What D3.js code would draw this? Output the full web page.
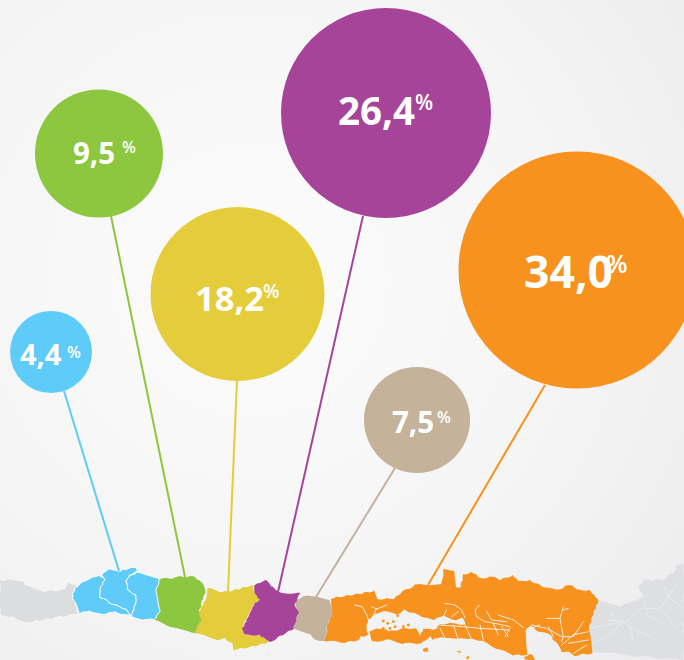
<!DOCTYPE html>
<html>
<head>
<meta charset="utf-8">
<script src="https://cdn.jsdelivr.net/npm/d3@7"></script>
<style>
  body { margin: 0; background: #f3f4f5; }
  svg { display: block; }
  text { font-family: "Open Sans", "Noto Sans", sans-serif; font-weight: 700; fill: #fff; }
  text.pct { font-weight: 600; }
</style>
</head>
<body>
<script>
// values, left to right along the map
var values = [4.4, 9.5, 18.2, 26.4, 7.5, 34.0];
var colors = ["#5fcbf8", "#8dc63f", "#e5cc3b", "#a6449a", "#c4b29a", "#f7921e"];

// where each bubble sits and where its leader runs
var centers = [[51, 352], [99, 153.5], [237.5, 294], [386, 113], [417, 420], [577, 270]];
var leaderStarts = [[64, 391], [111, 216], [237, 380], [363, 216], [395, 468], [545, 385]];
var leaderEnds = [[119, 571], [185, 577], [228, 592], [278, 592], [316, 597], [428, 585]];
var fontSizes = [29, 29.5, 34.5, 38.5, 29.5, 44.5];
var labelX = [20, 73, 195, 338, 392, 524];
var labelY = [365, 164, 311, 125, 433, 288];
var pctX = [67, 122, 263, 415, 437, 606];
var pctY = [358, 153, 298, 110, 423, 273];
var pctSizes = [16, 16, 19, 21, 16, 25];

var width = 684, height = 660;
var water = "#f1f2f3";

function crop(x0, y0, pts) {
  return pts.map(function(p) { return [x0 + p[0] / 3, y0 + p[1] / 3]; });
}

var greyLeft = crop(0, 550, [[0,92],[40,88],[70,95],[75,105],[135,125],[195,120],[205,100],[230,108],[215,135],[235,190],[150,205],[75,218],[40,200],[0,195]]);
var greyRight = crop(530, 565, [[205,105],[265,125],[345,95],[322,65],[345,45],[400,45],[435,20],[440,0],[462,0],[462,285],[300,272],[190,258],[175,190]]);
var blueA = crop(65, 560, [[22,105],[30,85],[60,62],[100,45],[118,58],[105,85],[102,110],[130,125],[150,135],[175,145],[195,160],[190,168],[150,155],[110,165],[70,152],[42,162],[30,130]]);
var blueB = crop(65, 560, [[118,58],[110,45],[130,25],[165,32],[212,20],[215,35],[195,45],[183,65],[188,90],[215,105],[210,135],[200,168],[195,160],[175,145],[150,135],[130,125],[102,110],[105,85]]);
var blueC = crop(65, 560, [[215,38],[240,42],[285,55],[272,100],[287,150],[268,180],[230,178],[200,170],[210,135],[215,105],[188,90],[183,65],[195,45]]);
var green = crop(65, 560, [[285,55],[310,55],[345,50],[385,50],[415,70],[422,90],[400,160],[407,180],[390,220],[345,210],[268,180],[287,150],[272,100]]);
var yellow = crop(195, 570, [[35,55],[75,65],[100,65],[175,45],[178,70],[195,90],[180,100],[150,155],[143,180],[150,195],[195,195],[225,215],[180,228],[115,240],[110,220],[90,205],[70,210],[0,190],[15,150],[8,130],[35,85]]);
var yellowBits = [crop(195, 570, [[215,250],[222,248],[220,254]]), crop(195, 570, [[95,232],[100,232],[98,236]])];
var purple = crop(195, 570, [[178,45],[215,30],[250,68],[315,70],[300,100],[310,130],[295,175],[225,218],[195,195],[150,195],[143,175],[180,100],[195,90],[178,70]]);
var tan = crop(195, 570, [[300,90],[340,75],[360,80],[405,88],[415,130],[400,155],[390,212],[360,210],[340,190],[295,175],[310,130]]);

var orangeMain = [].concat(
  crop(325, 565, [[20,100],[80,90],[150,78],[155,103],[210,100],[240,75],[285,55],[315,60]]),
  crop(430, 565, [[35,60],[40,15],[70,15],[78,68],[92,65],[100,30],[125,20],[150,40],[195,35],[205,45],[250,32],[270,50],[300,45]]),
  crop(530, 565, [[40,65],[80,75],[120,60],[145,75],[175,75],[205,105],[175,190],[190,265],[130,272],[115,260],[95,260],[85,240],[60,210],[20,195],[0,180]]),
  crop(430, 565, [[285,200],[290,240],[290,270],[250,270],[200,250],[170,235],[130,220],[80,222],[30,215],[10,225],[0,215]]),
  crop(325, 565, [[290,235],[230,235],[190,225],[140,230],[135,195],[130,210],[108,215],[105,225],[60,232],[0,228],[10,175],[22,140]])
);
var orangeBits = [
  crop(325, 565, [[295,250],[305,247],[308,260],[297,262]]),
  crop(430, 565, [[108,275],[118,270],[118,280],[108,283]]),
  crop(430, 565, [[282,275],[305,268],[315,285],[285,285]]),
  crop(430, 565, [[80,258],[92,255],[90,262]])
];
var inlet = crop(325, 565, [[130,165],[145,155],[150,145],[185,140],[215,150],[240,135],[265,145],[295,158],[330,165],[355,150],[385,165],[415,160],[420,178],[375,175],[345,178],[335,190],[320,195],[295,190],[285,212],[270,190],[240,190],[190,200],[170,190],[135,197],[135,210],[128,200],[125,180]]);
var inletIslets = crop(325, 565, [[115,158],[125,160],[175,168],[188,175],[205,170],[195,190],[210,185],[235,185],[250,180],[218,152],[175,190]]);

// thin inlets cutting through the orange part
var channels = [
  crop(325, 565, [[88,120],[112,125],[125,150],[130,165]]),
  crop(325, 565, [[140,125],[155,132],[185,120]]),
  crop(325, 565, [[155,130],[142,158]]),
  crop(430, 565, [[45,115],[75,120],[95,135],[105,158]]),
  crop(430, 565, [[148,120],[135,135],[140,155],[165,170],[195,175],[240,185]]),
  crop(430, 565, [[170,140],[185,165],[230,170]]),
  crop(430, 565, [[205,150],[250,165],[280,187]]),
  crop(430, 565, [[50,135],[40,155]]),
  crop(430, 565, [[85,140],[65,155]]),
  crop(430, 565, [[25,180],[100,185],[150,190],[235,195]]),
  crop(430, 565, [[30,190],[45,220]]),
  crop(430, 565, [[70,180],[85,225]]),
  crop(430, 565, [[105,180],[125,225]]),
  crop(430, 565, [[150,180],[160,225]]),
  crop(430, 565, [[190,175],[205,210]]),
  crop(430, 565, [[215,185],[235,215]]),
  crop(430, 565, [[240,190],[225,215]]),
  crop(430, 565, [[300,205],[305,190],[328,180]]),
  crop(530, 565, [[100,125],[90,160],[100,215],[95,230]]),
  crop(530, 565, [[115,130],[100,135]]),
  crop(530, 565, [[50,160],[90,160]]),
  crop(530, 565, [[5,180],[50,190],[95,215],[130,215],[160,170]]),
  crop(530, 565, [[135,205],[95,240]]),
  crop(530, 565, [[175,200],[130,210]]),
  crop(530, 565, [[175,225],[115,235]]),
  crop(530, 565, [[130,265],[170,240]]),
  crop(530, 565, [[55,185],[70,215]])
];
var greyChannels = [
  crop(530, 565, [[180,190],[280,170],[300,185],[360,215]]),
  crop(530, 565, [[235,165],[290,170],[335,130],[390,130],[440,60]]),
  crop(530, 565, [[390,130],[440,190],[462,170]]),
  crop(530, 565, [[180,240],[230,215],[280,170]]),
  crop(530, 565, [[300,185],[310,225]]),
  crop(530, 565, [[400,60],[420,100],[462,130]]),
  crop(530, 565, [[345,110],[350,150],[400,175]]),
  crop(530, 565, [[240,140],[255,165]])
];

var svg = d3.select("body").append("svg")
  .attr("width", width)
  .attr("height", height);

var grad = svg.append("defs").append("radialGradient")
  .attr("id", "paper")
  .attr("gradientUnits", "userSpaceOnUse")
  .attr("cx", 250).attr("cy", 280).attr("r", 580);
grad.append("stop").attr("offset", "0%").attr("stop-color", "#fcfcfc");
grad.append("stop").attr("offset", "60%").attr("stop-color", "#f4f4f5");
grad.append("stop").attr("offset", "100%").attr("stop-color", "#ebebed");

svg.append("rect")
  .attr("width", width)
  .attr("height", height)
  .attr("fill", "url(#paper)");

// coasts are ragged: break each edge up and nudge the points by their position
function ragged(pts) {
  var out = [];
  pts.forEach(function(p, i) {
    var q = pts[(i + 1) % pts.length];
    var n = Math.max(1, Math.round(Math.hypot(q[0] - p[0], q[1] - p[1]) / 2.5));
    d3.range(n).forEach(function(k) {
      var x = p[0] + (q[0] - p[0]) * k / n;
      var y = p[1] + (q[1] - p[1]) * k / n;
      out.push([x + 0.7 * Math.sin(x * 1.7 + y * 2.3), y + 0.7 * Math.sin(x * 2.9 - y * 1.3)]);
    });
  });
  return out;
}

var line = d3.line();
var map = svg.append("g").attr("class", "map");

function land(pts, fill, stroke) {
  map.append("path")
    .attr("d", line(ragged(pts)) + "Z")
    .attr("fill", fill)
    .attr("stroke", stroke || "none")
    .attr("stroke-width", stroke ? 1 : 0)
    .attr("stroke-linejoin", "round");
}

function cut(pts, color, w) {
  map.append("path")
    .attr("d", line(pts))
    .attr("fill", "none")
    .attr("stroke", color)
    .attr("stroke-width", w)
    .attr("stroke-linecap", "round");
}

land(greyLeft, "#dcddde");
land(greyRight, "#dedfe1");
greyChannels.forEach(function(c) { cut(c, "#eaebec", 1); });

land(orangeMain, colors[5]);
orangeBits.forEach(function(b) { land(b, colors[5]); });
land(inlet, water);
inletIslets.forEach(function(p) {
  map.append("circle").attr("cx", p[0]).attr("cy", p[1]).attr("r", 1.4).attr("fill", colors[5]);
});
channels.forEach(function(c) { cut(c, water, 0.9); });

land(tan, colors[4]);
land(yellow, colors[2]);
yellowBits.forEach(function(b) { land(b, colors[2]); });
land(purple, colors[3]);
land(green, colors[1]);
land(blueA, colors[0], "#fff");
land(blueB, colors[0], "#fff");
land(blueC, colors[0], "#fff");

// bubbles are not quite proportional in the original, so the scale goes through each one
var radius = d3.scaleLinear()
  .domain([4.4, 7.5, 9.5, 18.2, 26.4, 34.0])
  .range([41, 53, 64, 87, 105, 118.5]);

var fmt = function(v) { return d3.format(".1f")(v).replace(".", ","); };

var bubbles = svg.selectAll("g.bubble")
  .data(values)
  .enter()
  .append("g")
  .attr("class", "bubble");

bubbles.append("line")
  .attr("x1", function(d, i) { return leaderStarts[i][0]; })
  .attr("y1", function(d, i) { return leaderStarts[i][1]; })
  .attr("x2", function(d, i) { return leaderEnds[i][0]; })
  .attr("y2", function(d, i) { return leaderEnds[i][1]; })
  .attr("stroke", function(d, i) { return colors[i]; })
  .attr("stroke-width", 2);

bubbles.append("circle")
  .attr("cx", function(d, i) { return centers[i][0]; })
  .attr("cy", function(d, i) { return centers[i][1]; })
  .attr("r", function(d) { return radius(d); })
  .attr("fill", function(d, i) { return colors[i]; });

bubbles.append("text")
  .attr("x", function(d, i) { return labelX[i]; })
  .attr("y", function(d, i) { return labelY[i]; })
  .attr("font-size", function(d, i) { return fontSizes[i]; })
  .text(function(d) { return fmt(d); });

bubbles.append("text")
  .attr("class", "pct")
  .attr("x", function(d, i) { return pctX[i]; })
  .attr("y", function(d, i) { return pctY[i]; })
  .attr("font-size", function(d, i) { return pctSizes[i]; })
  .text("%");
</script>
</body>
</html>
